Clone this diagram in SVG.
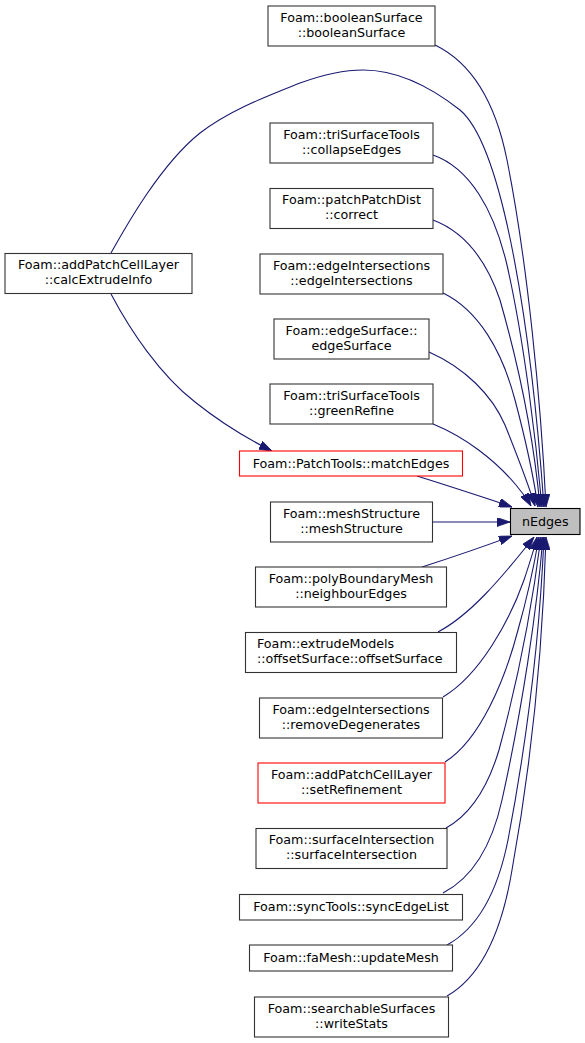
<svg xmlns="http://www.w3.org/2000/svg" width="585" height="1043" viewBox="0 0 585 1043">
<style>
.n rect{fill:#ffffff;stroke:#333333;stroke-width:1.1}
.n.red rect{stroke:#ff0000}
.n.cur rect{fill:#bfbfbf;stroke:#000000}
.n text{font-family:"DejaVu Sans",sans-serif;font-size:12.7px;fill:#000000;text-anchor:middle}
.n text.l{text-anchor:start}
#edges path{fill:none;stroke:#191970;stroke-width:1.1;marker-end:url(#ah)}
</style>
<defs>
<marker id="ah" viewBox="0 0 13 9" refX="13" refY="4.5" markerWidth="13" markerHeight="9" markerUnits="userSpaceOnUse" orient="auto">
<path d="M0,0 L13,4.5 L0,9 z" fill="#191970" stroke="#191970" stroke-width="0.8"/>
</marker>
</defs>
<rect width="585" height="1043" fill="#ffffff"/>
<g id="edges">
<path d="M435,45 C470,62 495,100 507,160 C527,260 541,400 546,507"/>
<path d="M111,253 C125,228 160,165 200,133 C230,110 265,97 300,83 C325,74 345,70 363,70 C398,70 432,88 460,110 C505,148 532,340 544,507"/>
<path d="M433,155 C470,168 494,210 507,265 C524,340 536,440 542,507"/>
<path d="M433,220 C465,232 487,262 500,300 C520,370 534,440 540,507"/>
<path d="M443,293 C478,310 502,350 515,400 C527,445 534,480 538,507"/>
<path d="M429,352 C465,368 492,395 505,425 C515,450 527,480 535,506"/>
<path d="M433,424 C465,437 495,460 516,485 C522,492 527,499 531,506"/>
<path d="M111,294 C130,330 160,375 195,402 C215,418 240,435 272,451"/>
<path d="M417,476 C445,485 480,496 512,507"/>
<path d="M432,522 L510,522"/>
<path d="M422,567 C450,558 485,546 512,536"/>
<path d="M438,632 C470,615 500,580 534,537"/>
<path d="M443,697 C480,675 510,620 524,580 C530,562 534,550 537,537"/>
<path d="M445,762 C480,740 505,680 518,630 C528,595 535,560 539,537"/>
<path d="M446,828 C475,812 490,780 499,750 C518,680 533,600 541,537"/>
<path d="M443,893 C472,878 492,845 502,800 C522,710 537,610 543,537"/>
<path d="M447,945 C478,928 498,890 508,840 C527,740 540,630 544,537"/>
<path d="M447,996 C482,976 502,930 512,870 C532,760 543,640 546,537"/>
</g>
<g id="booleanSurface" class="n"><rect x="268" y="6" width="167" height="40"/><text x="351.5" y="21.5">Foam::booleanSurface</text><text x="351.5" y="36.5">::booleanSurface</text></g>
<g id="calcExtrudeInfo" class="n"><rect x="5" y="253.5" width="187" height="40"/><text x="98.5" y="269">Foam::addPatchCellLayer</text><text x="98.5" y="284">::calcExtrudeInfo</text></g>
<g id="collapseEdges" class="n"><rect x="270" y="123" width="163" height="40"/><text x="351.5" y="138.5">Foam::triSurfaceTools</text><text x="351.5" y="153.5">::collapseEdges</text></g>
<g id="correct" class="n"><rect x="270" y="188.5" width="163" height="40"/><text x="351.5" y="204">Foam::patchPatchDist</text><text x="351.5" y="219">::correct</text></g>
<g id="edgeIntersections" class="n"><rect x="260" y="254" width="183" height="40"/><text x="351.5" y="269.5">Foam::edgeIntersections</text><text x="351.5" y="284.5">::edgeIntersections</text></g>
<g id="edgeSurface" class="n"><rect x="274" y="319" width="155" height="40"/><text x="351.5" y="334.5">Foam::edgeSurface::</text><text x="351.5" y="349.5">edgeSurface</text></g>
<g id="greenRefine" class="n"><rect x="270" y="384" width="163" height="40"/><text x="351.5" y="399.5">Foam::triSurfaceTools</text><text x="351.5" y="414.5">::greenRefine</text></g>
<g id="matchEdges" class="n red"><rect x="239.5" y="451" width="223" height="25"/><text x="351" y="467.5">Foam::PatchTools::matchEdges</text></g>
<g id="meshStructure" class="n"><rect x="270.5" y="502" width="162" height="40"/><text x="351.5" y="517.5">Foam::meshStructure</text><text x="351.5" y="532.5">::meshStructure</text></g>
<g id="nEdges" class="n cur"><rect x="510.5" y="508.5" width="69.5" height="26"/><text x="545.25" y="525.5">nEdges</text></g>
<g id="neighbourEdges" class="n"><rect x="255.5" y="567" width="191" height="40"/><text x="351" y="582.5">Foam::polyBoundaryMesh</text><text x="351" y="597.5">::neighbourEdges</text></g>
<g id="offsetSurface" class="n"><rect x="245.5" y="632.5" width="211" height="40"/><text class="l" x="257" y="648">Foam::extrudeModels</text><text class="l" x="257" y="663">::offsetSurface::offsetSurface</text></g>
<g id="removeDegenerates" class="n"><rect x="259.5" y="698" width="183" height="40"/><text x="351" y="713.5">Foam::edgeIntersections</text><text x="351" y="728.5">::removeDegenerates</text></g>
<g id="setRefinement" class="n red"><rect x="258" y="763" width="187" height="40"/><text x="351.5" y="778.5">Foam::addPatchCellLayer</text><text x="351.5" y="793.5">::setRefinement</text></g>
<g id="surfaceIntersection" class="n"><rect x="256" y="828.5" width="191" height="40"/><text x="351.5" y="844">Foam::surfaceIntersection</text><text x="351.5" y="859">::surfaceIntersection</text></g>
<g id="syncEdgeList" class="n"><rect x="239.5" y="894.5" width="223" height="25.5"/><text x="351" y="911">Foam::syncTools::syncEdgeList</text></g>
<g id="updateMesh" class="n"><rect x="249.5" y="945" width="203" height="26"/><text x="351" y="961.5">Foam::faMesh::updateMesh</text></g>
<g id="writeStats" class="n"><rect x="254.5" y="997" width="194" height="40"/><text x="351.5" y="1012.5">Foam::searchableSurfaces</text><text x="351.5" y="1027.5">::writeStats</text></g>
</svg>
